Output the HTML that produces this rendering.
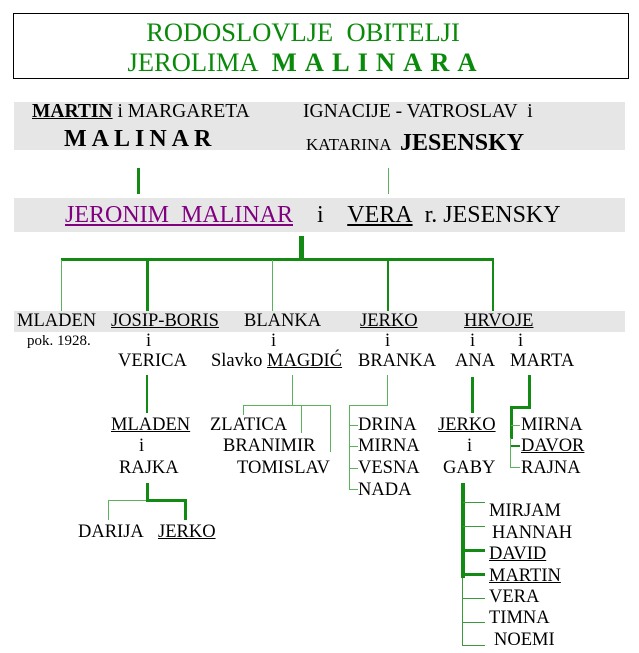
<!DOCTYPE html>
<html><head><meta charset="utf-8"><style>
body{margin:0;width:639px;height:653px;background:#fff;position:relative;overflow:hidden;font-family:"Liberation Serif",serif;color:#000}
.t{position:absolute;white-space:nowrap;line-height:1;font-size:18.5px}
.u{text-decoration:underline}
.b{font-weight:bold}
.l{position:absolute;background:#138a13}
.k{position:absolute;background:#5cb25c}
.g{position:absolute;background:#e6e6e6}
</style></head><body>
<div style="position:absolute;left:13px;top:13px;width:614px;height:64px;border:1px solid #000"></div>
<div class="t" style="left:0;width:606px;text-align:center;top:19px;font-size:26.5px;color:#0a8a0a">RODOSLOVLJE&nbsp; OBITELJI</div>
<div class="t" style="left:0;width:612px;text-align:center;top:49px;font-size:26.5px;color:#0a8a0a">JEROLIMA&nbsp; <b style="letter-spacing:8px">MALINARA</b></div>

<div class="g" style="left:14px;top:102px;width:611px;height:48px"></div>
<div class="g" style="left:14px;top:198px;width:611px;height:34px"></div>
<div class="g" style="left:14px;top:311px;width:611px;height:21px"></div>

<div class="t" style="left:32px;top:102px;font-size:19.5px"><b class="u">MARTIN</b> i MARGARETA</div>
<div class="t" style="left:303px;top:102px;font-size:19.5px">IGNACIJE - VATROSLAV&nbsp; i</div>
<div class="t b" style="left:64px;top:127px;font-size:24px;letter-spacing:5px">MALINAR</div>
<div class="t" style="left:306px;top:131px;font-size:17px">KATARINA&nbsp; <b style="font-size:24px">JESENSKY</b></div>

<div class="l" style="left:137px;top:168px;width:3px;height:26px"></div>
<div class="k" style="left:388px;top:168px;width:1px;height:26px"></div>

<div class="t" style="left:65px;top:203px;font-size:24px"><span class="u" style="color:#800080">JERONIM&nbsp; MALINAR</span>&nbsp;&nbsp;&nbsp; i&nbsp;&nbsp;&nbsp; <span class="u">VERA</span>&nbsp; r. JESENSKY</div>

<div class="l" style="left:299px;top:236px;width:5px;height:22px"></div>
<div class="l" style="left:61px;top:258px;width:433px;height:3px"></div>
<div class="k" style="left:61px;top:260px;width:1px;height:51px"></div>
<div class="l" style="left:146px;top:260px;width:3px;height:51px"></div>
<div class="k" style="left:272px;top:260px;width:1px;height:51px"></div>
<div class="l" style="left:387px;top:260px;width:2px;height:51px"></div>
<div class="l" style="left:492px;top:260px;width:2px;height:51px"></div>

<div class="t" style="left:17px;top:312px">MLADEN</div>
<div class="t u" style="left:111px;top:312px">JOSIP-BORIS</div>
<div class="t" style="left:244px;top:312px">BLANKA</div>
<div class="t u" style="left:360px;top:312px">JERKO</div>
<div class="t u" style="left:464px;top:312px">HRVOJE</div>
<div class="t" style="left:27px;top:334px;font-size:15px">pok. 1928.</div>
<div class="t" style="left:146px;top:332px">i</div>
<div class="t" style="left:271px;top:332px">i</div>
<div class="t" style="left:385px;top:332px">i</div>
<div class="t" style="left:470px;top:332px">i</div>
<div class="t" style="left:518px;top:332px">i</div>
<div class="t" style="left:118px;top:352px">VERICA</div>
<div class="t" style="left:211px;top:352px">Slavko <span class="u">MAGDIĆ</span></div>
<div class="t" style="left:358px;top:352px">BRANKA</div>
<div class="t" style="left:455px;top:352px">ANA</div>
<div class="t" style="left:510px;top:352px">MARTA</div>

<!-- Verica -->
<div class="l" style="left:146px;top:375px;width:2px;height:38px"></div>
<div class="t u" style="left:111px;top:416px">MLADEN</div>
<div class="t" style="left:139px;top:437px">i</div>
<div class="t" style="left:119px;top:459px">RAJKA</div>
<div class="l" style="left:146px;top:483px;width:3px;height:19px"></div>
<div class="k" style="left:109px;top:500px;width:38px;height:1px"></div>
<div class="k" style="left:108px;top:500px;width:1px;height:20px"></div>
<div class="l" style="left:146px;top:499px;width:40px;height:3px"></div>
<div class="l" style="left:184px;top:499px;width:3px;height:21px"></div>
<div class="t" style="left:78px;top:523px">DARIJA</div>
<div class="t u" style="left:158px;top:523px">JERKO</div>

<!-- Magdic -->
<div class="k" style="left:292px;top:375px;width:1px;height:30px"></div>
<div class="k" style="left:243px;top:405px;width:88px;height:1px"></div>
<div class="k" style="left:243px;top:405px;width:1px;height:10px"></div>
<div class="k" style="left:301px;top:405px;width:1px;height:28px"></div>
<div class="k" style="left:330px;top:405px;width:1px;height:47px"></div>
<div class="t" style="left:210px;top:416px">ZLATICA</div>
<div class="t" style="left:223px;top:437px">BRANIMIR</div>
<div class="t" style="left:237px;top:459px">TOMISLAV</div>

<!-- Branka -->
<div class="k" style="left:387px;top:375px;width:1px;height:30px"></div>
<div class="k" style="left:349px;top:405px;width:39px;height:1px"></div>
<div class="k" style="left:349px;top:405px;width:1px;height:85px"></div>
<div class="k" style="left:349px;top:425px;width:9px;height:1px"></div>
<div class="k" style="left:349px;top:446px;width:9px;height:1px"></div>
<div class="k" style="left:349px;top:468px;width:9px;height:1px"></div>
<div class="k" style="left:349px;top:489px;width:9px;height:1px"></div>
<div class="t" style="left:358px;top:416px">DRINA</div>
<div class="t" style="left:358px;top:437px">MIRNA</div>
<div class="t" style="left:358px;top:459px">VESNA</div>
<div class="t" style="left:358px;top:481px">NADA</div>

<!-- Ana -->
<div class="l" style="left:471px;top:377px;width:3px;height:36px"></div>
<div class="t u" style="left:438px;top:416px">JERKO</div>
<div class="t" style="left:467px;top:437px">i</div>
<div class="t" style="left:443px;top:459px">GABY</div>
<div class="l" style="left:461px;top:483px;width:4px;height:95px"></div>
<div class="k" style="left:462px;top:578px;width:1px;height:68px;background:#3a9a3a"></div>
<div class="k" style="left:463px;top:502px;width:22px;height:1px;background:#3a9a3a"></div>
<div class="k" style="left:463px;top:526px;width:22px;height:1px;background:#3a9a3a"></div>
<div class="l" style="left:463px;top:549px;width:22px;height:3px"></div>
<div class="l" style="left:463px;top:573px;width:22px;height:3px"></div>
<div class="k" style="left:463px;top:598px;width:22px;height:1px;background:#3a9a3a"></div>
<div class="k" style="left:463px;top:622px;width:22px;height:1px;background:#3a9a3a"></div>
<div class="k" style="left:463px;top:645px;width:22px;height:1px;background:#3a9a3a"></div>
<div class="t" style="left:489px;top:502px">MIRJAM</div>
<div class="t" style="left:492px;top:524px">HANNAH</div>
<div class="t u" style="left:489px;top:545px">DAVID</div>
<div class="t u" style="left:489px;top:567px">MARTIN</div>
<div class="t" style="left:489px;top:588px">VERA</div>
<div class="t" style="left:489px;top:609px">TIMNA</div>
<div class="t" style="left:494px;top:631px">NOEMI</div>

<!-- Marta -->
<div class="l" style="left:528px;top:375px;width:3px;height:33px"></div>
<div class="l" style="left:510px;top:406px;width:21px;height:3px"></div>
<div class="l" style="left:510px;top:406px;width:3px;height:33px"></div>
<div class="k" style="left:510px;top:438px;width:1px;height:30px"></div>
<div class="k" style="left:511px;top:425px;width:9px;height:1px"></div>
<div class="l" style="left:511px;top:445px;width:9px;height:2px"></div>
<div class="k" style="left:510px;top:467px;width:10px;height:1px"></div>
<div class="t" style="left:521px;top:416px">MIRNA</div>
<div class="t u" style="left:521px;top:437px">DAVOR</div>
<div class="t" style="left:521px;top:459px">RAJNA</div>
</body></html>
